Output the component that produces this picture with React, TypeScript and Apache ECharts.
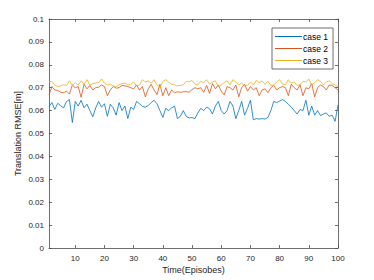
import React, { useEffect, useRef } from "react";
import * as echarts from "echarts";

const episodes: number[] = Array.from({ length: 100 }, (_, i) => i + 1);

const case1: number[] = [
  0.0617, 0.0635, 0.0605, 0.0632, 0.0621, 0.0612, 0.064, 0.0648, 0.0548, 0.064,
  0.062, 0.0645, 0.0612, 0.0628, 0.06, 0.0573, 0.0612, 0.064, 0.0615, 0.063,
  0.0575, 0.0628, 0.0612, 0.058, 0.0635, 0.06, 0.062, 0.0565, 0.0615, 0.0605,
  0.064, 0.063, 0.0618, 0.0615, 0.0622, 0.0635, 0.0645, 0.063, 0.06, 0.057,
  0.061, 0.06, 0.0612, 0.062, 0.0565, 0.0575, 0.06, 0.0575, 0.0568, 0.057,
  0.0565, 0.059, 0.061, 0.06, 0.0615, 0.0608, 0.0585, 0.062, 0.064, 0.06,
  0.0585, 0.06, 0.064, 0.062, 0.0565, 0.06, 0.064, 0.058, 0.061, 0.0645,
  0.056, 0.0565, 0.0563, 0.0565, 0.0563, 0.057, 0.06, 0.064, 0.0635, 0.0642,
  0.0648, 0.064, 0.0628, 0.0615, 0.06, 0.0585, 0.0605, 0.06, 0.0645, 0.058,
  0.062, 0.058, 0.06, 0.0578, 0.0585, 0.059, 0.0575, 0.058, 0.0553, 0.0625,
];

const case2: number[] = [
  0.0668, 0.0705, 0.069, 0.0688, 0.068, 0.0678, 0.0685, 0.0672, 0.0712, 0.07,
  0.0705, 0.0658, 0.0715, 0.0695, 0.071, 0.069, 0.07, 0.0702, 0.0712, 0.0705,
  0.0665, 0.069, 0.0705, 0.0698, 0.07, 0.071, 0.0708, 0.0705, 0.07, 0.0695,
  0.0712, 0.069, 0.0705, 0.066, 0.0695, 0.0715, 0.069, 0.067, 0.0715, 0.0665,
  0.07, 0.0665, 0.069, 0.0678, 0.0682, 0.068, 0.0682, 0.0683, 0.068, 0.0692,
  0.07, 0.0695, 0.07, 0.068, 0.071, 0.0675, 0.0718, 0.0695, 0.0712, 0.0685,
  0.0668, 0.0705, 0.07, 0.069, 0.0712, 0.066, 0.07, 0.0715, 0.0685, 0.0705,
  0.069, 0.07, 0.0665, 0.069, 0.0695, 0.0678, 0.07, 0.071, 0.069, 0.07,
  0.0705, 0.07, 0.0665, 0.0715, 0.07, 0.069, 0.0712, 0.0665, 0.07, 0.0695,
  0.0718, 0.066, 0.07, 0.0712, 0.0705, 0.069, 0.0712, 0.071, 0.07, 0.069,
];

const case3: number[] = [
  0.0725, 0.0728, 0.071, 0.0705, 0.0708, 0.0712, 0.071, 0.073, 0.071, 0.0722,
  0.0712, 0.073, 0.0715, 0.0735, 0.0712, 0.0718, 0.072, 0.0722, 0.0738, 0.072,
  0.0712, 0.0715, 0.0708, 0.0705, 0.0712, 0.0718, 0.072, 0.0712, 0.0715, 0.0725,
  0.0708, 0.0712, 0.0735, 0.0725, 0.073, 0.072, 0.0735, 0.0712, 0.07, 0.0728,
  0.0735, 0.0725, 0.0715, 0.0712, 0.0708, 0.071, 0.0712, 0.0728, 0.0725, 0.0732,
  0.0715, 0.0712, 0.0728, 0.0722, 0.0735, 0.0715, 0.0725, 0.073, 0.0705, 0.0712,
  0.0722, 0.073, 0.0712, 0.0735, 0.0725, 0.0712, 0.072, 0.0708, 0.071, 0.0725,
  0.0712, 0.0732, 0.0722, 0.073, 0.0715, 0.0728, 0.071, 0.0712, 0.0725, 0.0735,
  0.0715, 0.0712, 0.0735, 0.072, 0.0725, 0.071, 0.0712, 0.0728, 0.0725, 0.0738,
  0.0712, 0.0722, 0.0735, 0.0728, 0.0712, 0.0725, 0.073, 0.0718, 0.0712, 0.0705,
];

const seriesNames: string[] = ["case 1", "case 2", "case 3"];
const xTicks: number[] = [10, 20, 30, 40, 50, 60, 70, 80, 90, 100];

export default function App() {
  const ref = useRef<HTMLDivElement>(null);
  useEffect(() => {
    if (!ref.current) return;
    const chart = echarts.init(ref.current, undefined, { renderer: "svg" });
    const axisColor = "#262626";
    const font = "Liberation Sans, Arial, Helvetica, sans-serif";
    const lineStyle = { color: "#4a4a4a", width: 0.8 };
    const baseX = {
      type: "value" as const,
      min: 1,
      max: 100,
      axisLine: { show: true, onZero: false, lineStyle },
      splitLine: { show: false },
    };
    const baseY = {
      type: "value" as const,
      min: 0,
      max: 0.1,
      interval: 0.01,
      axisLine: { show: true, onZero: false, lineStyle },
      splitLine: { show: false },
    };
    const colors = ["#0072BD", "#D95319", "#EDB120"];
    const datas = [case1, case2, case3];
    chart.setOption({
      animation: false,
      backgroundColor: "#ffffff",
      textStyle: { fontFamily: font },
      grid: { left: 49, right: 36, top: 19, bottom: 32, containLabel: false },
      legend: {
        data: seriesNames.map((n) => ({ name: n, icon: "rect" })),
        orient: "vertical",
        left: 272,
        top: 28,
        padding: [4, 5, 4, 3],
        itemGap: 3,
        itemWidth: 27,
        itemHeight: 1,
        borderColor: "#4a4a4a",
        borderWidth: 0.8,
        borderRadius: 0,
        backgroundColor: "#ffffff",
        textStyle: { fontSize: 8.5, lineHeight: 9, color: "#000000", fontFamily: font, padding: [0, 0, 0, -4] },
      },
      xAxis: [
        {
          ...baseX,
          position: "bottom",
          name: "Time(Episobes)",
          nameLocation: "middle",
          nameGap: 17,
          nameMoveOverlap: false,
          nameTextStyle: { fontSize: 9, color: axisColor, fontFamily: font },
          axisTick: { show: true, inside: true, length: 3, lineStyle, customValues: xTicks },
          axisLabel: { color: axisColor, fontSize: 8, margin: 6, customValues: xTicks, fontFamily: font },
        },
        {
          ...baseX,
          position: "top",
          axisTick: { show: true, inside: true, length: 3, lineStyle, customValues: xTicks },
          axisLabel: { show: false, customValues: xTicks },
        },
      ],
      yAxis: [
        {
          ...baseY,
          position: "left",
          name: "Translation RMSE[m]",
          nameLocation: "middle",
          nameGap: 27,
          nameMoveOverlap: false,
          nameTextStyle: { fontSize: 9, color: axisColor, fontFamily: font },
          axisTick: { show: true, inside: true, length: 3, lineStyle },
          axisLabel: {
            color: axisColor,
            fontSize: 8,
            margin: 5,
            fontFamily: font,
            formatter: (v: number) => String(parseFloat(v.toFixed(2))),
          },
        },
        {
          ...baseY,
          position: "right",
          axisTick: { show: true, inside: true, length: 3, lineStyle },
          axisLabel: { show: false },
        },
      ],
      series: seriesNames.map((name, i) => ({
        name,
        type: "line",
        xAxisIndex: 0,
        yAxisIndex: 0,
        symbol: "none",
        showSymbol: false,
        color: colors[i],
        lineStyle: { width: 0.8, color: colors[i] },
        data: episodes.map((e, j) => [e, datas[i][j]]),
      })),
    });
    return () => chart.dispose();
  }, []);
  return (
    <div
      ref={ref}
      style={{ position: "absolute", left: 0, top: 0, width: 374, height: 280 }}
    />
  );
}
